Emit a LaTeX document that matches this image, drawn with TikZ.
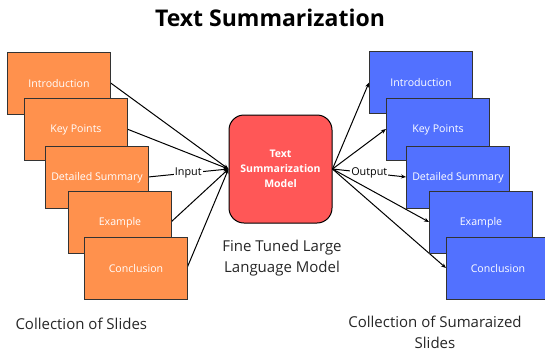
\documentclass[tikz,border=0pt]{standalone}
\usepackage{fontspec}
\setmainfont{Open Sans}
\usetikzlibrary{arrows.meta}
\definecolor{sorange}{HTML}{FF914D}
\definecolor{sblue}{HTML}{5271FF}
\definecolor{sred}{HTML}{FF5757}
\definecolor{edge}{HTML}{333333}
\begin{document}
\begin{tikzpicture}[x=1pt,y=-1pt,
  slide/.style={draw=edge, line width=1pt, minimum width=103pt, minimum height=62pt,
    inner sep=0pt, text=white, font=\fontsize{10.6}{12}\selectfont, anchor=north west},
  oslide/.style={slide, fill=sorange},
  bslide/.style={slide, fill=sblue},
  conn/.style={draw=black, line width=1pt, -{Stealth[length=5pt,width=4pt]}},
  lbl/.style={fill=white, inner sep=1pt, font=\fontsize{10.8}{12}\selectfont, text=black},
  captxt/.style={font=\fontsize{15}{21}\selectfont, align=center, text=black!85}
]
\useasboundingbox (0,0) rectangle (545,351);

% title
\node[font=\fontsize{23}{26}\selectfont\bfseries] (title) at (270,18) {Text Summarization};

% model
\node[draw=black, line width=1pt, fill=sred, rounded corners=15pt, minimum width=103pt,
  minimum height=108pt, text=white, align=center, inner sep=0pt,
  font=\fontsize{10.5}{15}\selectfont\bfseries] (model) at (280.5,169)
  {Text\\Summarization\\Model};

% connectors (drawn first, behind slides)
\coordinate (oi) at (110,82.5);
\coordinate (ok) at (127,129);
\coordinate (od) at (148,177);
\coordinate (oe) at (171,222);
\coordinate (oc) at (187,268);
\coordinate (bi) at (369,82.5);
\coordinate (bk) at (386,129);
\coordinate (bd) at (406,177);
\coordinate (be) at (429,222);
\coordinate (bc) at (446,268);

\draw[conn] (oi) -- (model.west);
\draw[conn] (ok) -- (model.west);
\draw[conn] (od) -- node[lbl] (inlbl) {Input} (model.west);
\draw[conn] (oe) -- (model.west);
\draw[conn] (oc) -- (model.west);

\draw[conn] (model.east) -- (bi);
\draw[conn] (model.east) -- (bk);
\draw[conn] (model.east) -- node[lbl] (outlbl) {Output} (bd);
\draw[conn] (model.east) -- (be);
\draw[conn] (model.east) -- (bc);

% orange slides
\node[oslide] (l1) at (7,52) {Introduction};
\node[oslide] (l2) at (24,98) {Key Points};
\node[oslide] (l3) at (45,146) {Detailed Summary};
\node[oslide] (l4) at (68,191) {Example};
\node[oslide] (l5) at (84,237) {Conclusion};

% blue slides
\node[bslide] (r1) at (369,51) {Introduction};
\node[bslide] (r2) at (386,98) {Key Points};
\node[bslide] (r3) at (406,146) {Detailed Summary};
\node[bslide] (r4) at (429,191) {Example};
\node[bslide] (r5) at (446,237) {Conclusion};

% captions
\node[captxt] (mcap) at (282,258) {Fine Tuned Large\\Language Model};
\node[captxt, anchor=west] (lcap) at (12,324) {Collection of Slides};
\node[captxt] (rcap) at (435,332) {Collection of Sumaraized\\Slides};
\end{tikzpicture}
\end{document}
